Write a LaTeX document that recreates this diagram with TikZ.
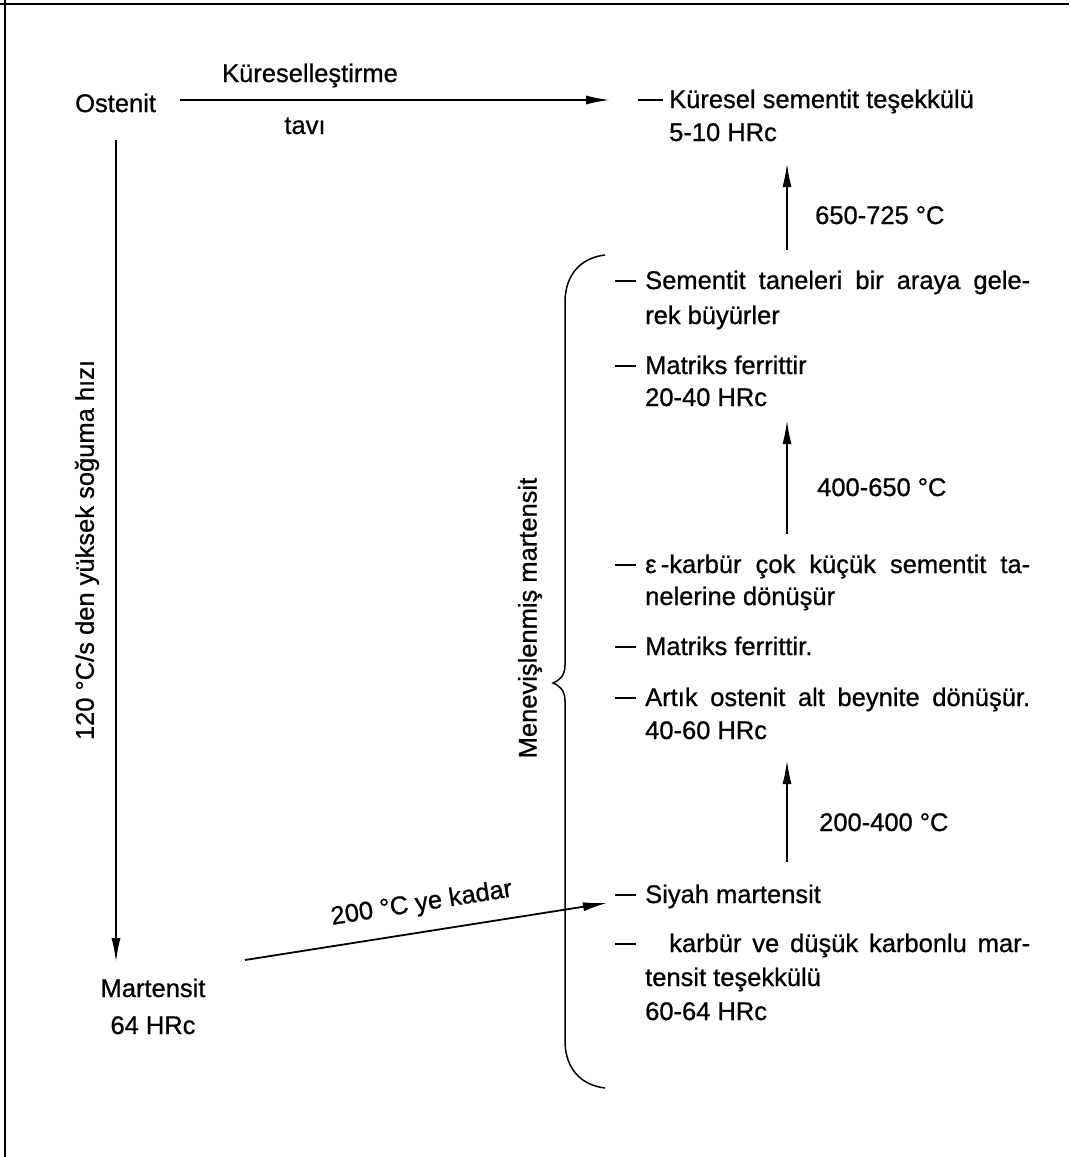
\documentclass[tikz,border=0pt]{standalone}
\usepackage{fontspec}
\setmainfont{Liberation Sans}[FakeBold=0.8]
\usetikzlibrary{arrows.meta}
\tikzset{
  every node/.style={inner sep=0pt, font=\fontsize{25.5}{30}\selectfont},
  txt/.style={anchor=base west},
  ctxt/.style={anchor=base},
  dashmark/.style={anchor=base west},
  arr/.style={line width=1.8pt, -{Latex[length=24pt,width=9pt]}},
  bracepath/.style={line width=1.5pt},
}
\newcommand{\itemdash}{\rule[7pt]{21pt}{1.6pt}}
\begin{document}
\begin{tikzpicture}[x=1pt,y=-1pt]
\useasboundingbox (0,0) rectangle (1069,1157);
% frame (top and left edges only)
\draw[line width=2pt] (0,4) -- (1069,4);
\draw[line width=2pt] (5,0) -- (5,1157);

% left column
\node[txt] (ost) at (75,112) {Ostenit};
\node[ctxt] (kurl) at (310,82) {Küreselleştirme};
\node[ctxt] (tavi) at (305,134) {tavı};
\node[ctxt] (mart) at (153,997) {Martensit};
\node[ctxt] (mhrc) at (153,1034) {64 HRc};
\node[rotate=90] (cool) at (87,550) {120 °C/s den yüksek soğuma hızı};

% right column, top item
\node[dashmark] (d1) at (638,108) {\rule[7pt]{25pt}{1.6pt}};
\node[txt] (t1) at (669,108) {Küresel sementit teşekkülü};
\node[txt] (t1b) at (669,141) {5-10 HRc};
\node[txt] (c1) at (815,224) {650-725 °C};

% tempered martensite items
\node[dashmark] (d2) at (615,289) {\itemdash};
\node[txt] (t2) at (645,289) {\makebox[385pt][s]{Sementit taneleri bir araya gele-}};
\node[txt] (t2b) at (645,324) {rek büyürler};
\node[dashmark] (d3) at (615,374) {\itemdash};
\node[txt] (t3) at (645,374) {Matriks ferrittir};
\node[txt] (t3b) at (645,406) {20-40 HRc};
\node[txt] (c2) at (817,496) {400-650 °C};
\node[dashmark] (d4) at (615,573) {\itemdash};
\node[txt] (t4) at (645,573) {\makebox[385pt][s]{ε\,-karbür çok küçük sementit ta-}};
\node[txt] (t4b) at (645,605) {nelerine dönüşür};
\node[dashmark] (d5) at (615,655) {\itemdash};
\node[txt] (t5) at (645,655) {Matriks ferrittir.};
\node[dashmark] (d6) at (615,706) {\itemdash};
\node[txt] (t6) at (645,706) {\makebox[385pt][s]{Artık ostenit alt beynite dönüşür.}};
\node[txt] (t6b) at (645,739) {40-60 HRc};
\node[txt] (c3) at (819,831) {200-400 °C};
\node[dashmark] (d7) at (615,903) {\itemdash};
\node[txt] (t7) at (645,903) {Siyah martensit};
\node[dashmark] (d8) at (615,952) {\itemdash};
\node[txt] (t8) at (669,952) {\makebox[361pt][s]{karbür ve düşük karbonlu mar-}};
\node[txt] (t8b) at (645,986) {tensit teşekkülü};
\node[txt] (t8c) at (645,1020) {60-64 HRc};

\node[rotate=90] (menev) at (530,618) {Menevişlenmiş martensit};

% connector end points
\coordinate (h1) at (180,100);
\coordinate (h2) at (610,100);
\coordinate (v1) at (116,140);
\coordinate (v2) at (116,962);
\coordinate (g1) at (245,960);
\coordinate (g2) at (607,903);
\coordinate (a1s) at (787,250);
\coordinate (a1e) at (787,163);
\coordinate (a2s) at (787,534);
\coordinate (a2e) at (787,420);
\coordinate (a3s) at (787,862);
\coordinate (a3e) at (787,760);

\draw[arr] (h1) -- (h2);
\draw[arr] (v1) -- (v2);
\draw[arr] (g1) -- node[sloped, midway, above=15pt] (gl) {200 °C ye kadar} (g2);
\draw[arr] (a1s) -- (a1e);
\draw[arr] (a2s) -- (a2e);
\draw[arr] (a3s) -- (a3e);

% brace
\draw[bracepath] (605,255) .. controls (580,258) and (566,275) .. (565,300)
  -- (565,665) .. controls (565,677) and (558,681) .. (553,683)
  .. controls (558,685) and (565,689) .. (565,701)
  -- (565,1043) .. controls (566,1068) and (580,1085) .. (605,1088);
\end{tikzpicture}
\end{document}
